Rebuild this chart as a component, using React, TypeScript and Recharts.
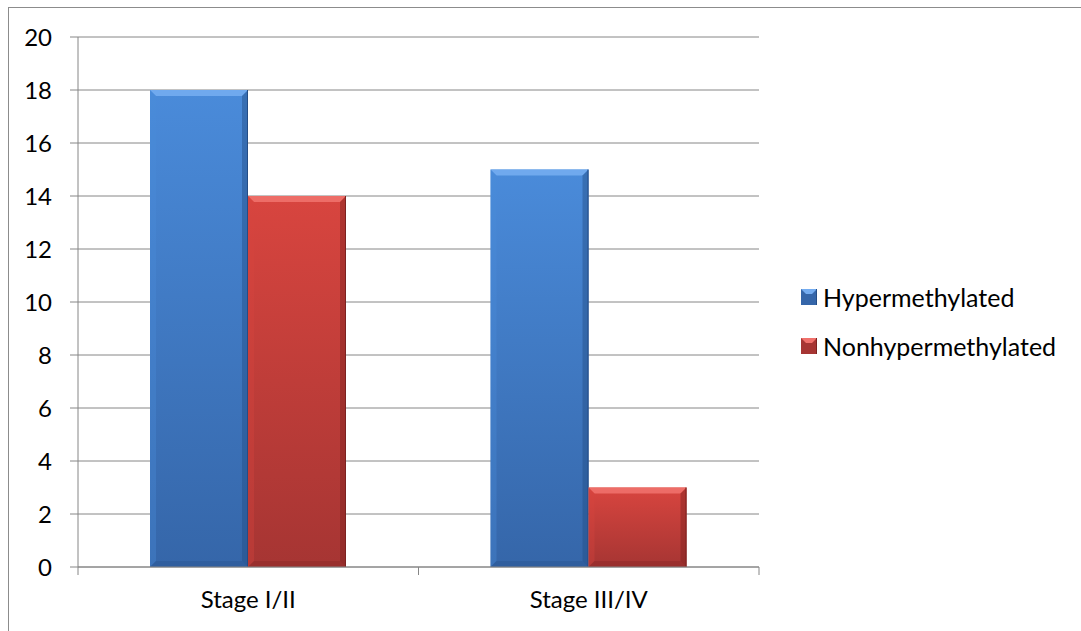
import React from "react";
import { BarChart, Bar, XAxis, YAxis, CartesianGrid } from "recharts";

const STAGES = ["Stage I/II", "Stage III/IV"];
const HYPER = [18, 15];
const NONHYPER = [14, 3];
const Y_TICKS = [0, 2, 4, 6, 8, 10, 12, 14, 16, 18, 20];

const SERIES = [
  { key: "hyper", name: "Hypermethylated", top: "#4a8bda", bottom: "#3566a9", light: "#74acf0", dark: "#244d86" },
  { key: "nonhyper", name: "Nonhypermethylated", top: "#d8453f", bottom: "#a63533", light: "#f0716c", dark: "#7c2220" },
];

const data = STAGES.map((stage, i) => ({ stage, hyper: HYPER[i], nonhyper: NONHYPER[i] }));

const FONT = "Lato, 'Open Sans', sans-serif";
const AXIS_COLOR = "#868686";
const X_TICK_SIZE = 8;
const X_TICK_MARGIN = 16;

// Excel-style bevelled bar
const BevelBar = (props: any) => {
  const { x, y, width: w, height: h, series } = props;
  if (!h || h <= 0) return null;
  const b = Math.min(6, h / 3);
  const s = SERIES.find((d) => d.key === series)!;
  return (
    <g>
      <rect x={x} y={y} width={w} height={h} fill={`url(#grad-${series})`} />
      <polygon points={`${x},${y} ${x + w},${y} ${x + w - b},${y + b} ${x + b},${y + b}`} fill={s.light} opacity={0.9} />
      <polygon points={`${x},${y} ${x + b},${y + b} ${x + b},${y + h - b} ${x},${y + h}`} fill={s.top} opacity={0.35} />
      <polygon points={`${x + w},${y} ${x + w - b},${y + b} ${x + w - b},${y + h - b} ${x + w},${y + h}`} fill={s.dark} opacity={0.45} />
      <polygon points={`${x},${y + h} ${x + b},${y + h - b} ${x + w - b},${y + h - b} ${x + w},${y + h}`} fill={s.dark} opacity={0.3} />
      <line x1={x + w - 0.5} y1={y} x2={x + w - 0.5} y2={y + h} stroke={s.dark} strokeWidth={1} />
    </g>
  );
};

// Category label centred, with tick marks at the category boundaries
const StageTick = (props: any) => {
  const { x, y, payload } = props;
  const half = payload?.offset ?? 0;
  const axisY = y - X_TICK_SIZE - X_TICK_MARGIN;
  return (
    <g>
      <line x1={x - half} y1={axisY} x2={x - half} y2={axisY + X_TICK_SIZE} stroke={AXIS_COLOR} />
      <line x1={x + half} y1={axisY} x2={x + half} y2={axisY + X_TICK_SIZE} stroke={AXIS_COLOR} />
      <text x={x} y={y} dy="0.71em" textAnchor="middle" fill="#000" fontSize={24} fontFamily={FONT}>
        {payload.value}
      </text>
    </g>
  );
};

const LegendSwatch = ({ s }: { s: (typeof SERIES)[number] }) => (
  <svg width={16} height={16} style={{ marginRight: 6, flex: "none" }}>
    <rect x={0} y={0} width={16} height={16} fill={s.bottom} />
    <polygon points="0,0 16,0 11,5 5,5" fill={s.light} />
    <rect x={15} y={0} width={1} height={16} fill={s.dark} />
  </svg>
);

export default function App() {
  return (
    <div
      style={{
        position: "absolute",
        left: 8,
        top: 7,
        width: 1072,
        height: 623,
        overflow: "hidden",
        borderLeft: "1px solid #8c8c8c",
        borderTop: "1px solid #8c8c8c",
        background: "#fff",
      }}
    >
      <BarChart
        width={1072}
        height={623}
        data={data}
        margin={{ top: 29, right: 322, bottom: 0, left: 0 }}
        barGap={0}
        barSize={98}
      >
        <defs>
          {SERIES.map((s) => (
            <linearGradient key={s.key} id={`grad-${s.key}`} x1="0" y1="0" x2="0" y2="1">
              <stop offset="0%" stopColor={s.top} />
              <stop offset="100%" stopColor={s.bottom} />
            </linearGradient>
          ))}
        </defs>
        <CartesianGrid vertical={false} stroke={AXIS_COLOR} />
        <XAxis
          dataKey="stage"
          height={64}
          axisLine={{ stroke: AXIS_COLOR }}
          tickLine={false}
          tickSize={X_TICK_SIZE}
          tickMargin={X_TICK_MARGIN}
          tick={<StageTick />}
          interval={0}
        />
        <YAxis
          width={69}
          domain={[0, 20]}
          ticks={Y_TICKS}
          interval={0}
          axisLine={{ stroke: AXIS_COLOR }}
          tickLine={{ stroke: AXIS_COLOR }}
          tickSize={8}
          tickMargin={18}
          tick={{ fill: "#000", fontSize: 24, fontFamily: FONT }}
        />
        {SERIES.map((s) => (
          <Bar
            key={s.key}
            dataKey={s.key}
            name={s.name}
            fill={s.top}
            isAnimationActive={false}
            shape={(p: any) => <BevelBar {...p} series={s.key} />}
          />
        ))}
      </BarChart>
      <div
        style={{
          position: "absolute",
          left: 792,
          top: 264,
          fontFamily: FONT,
          fontSize: 25,
          color: "#000",
        }}
      >
        {SERIES.map((s) => (
          <div key={s.key} style={{ display: "flex", alignItems: "center", height: 49, whiteSpace: "nowrap" }}>
            <LegendSwatch s={s} />
            <span>{s.name}</span>
          </div>
        ))}
      </div>
    </div>
  );
}
